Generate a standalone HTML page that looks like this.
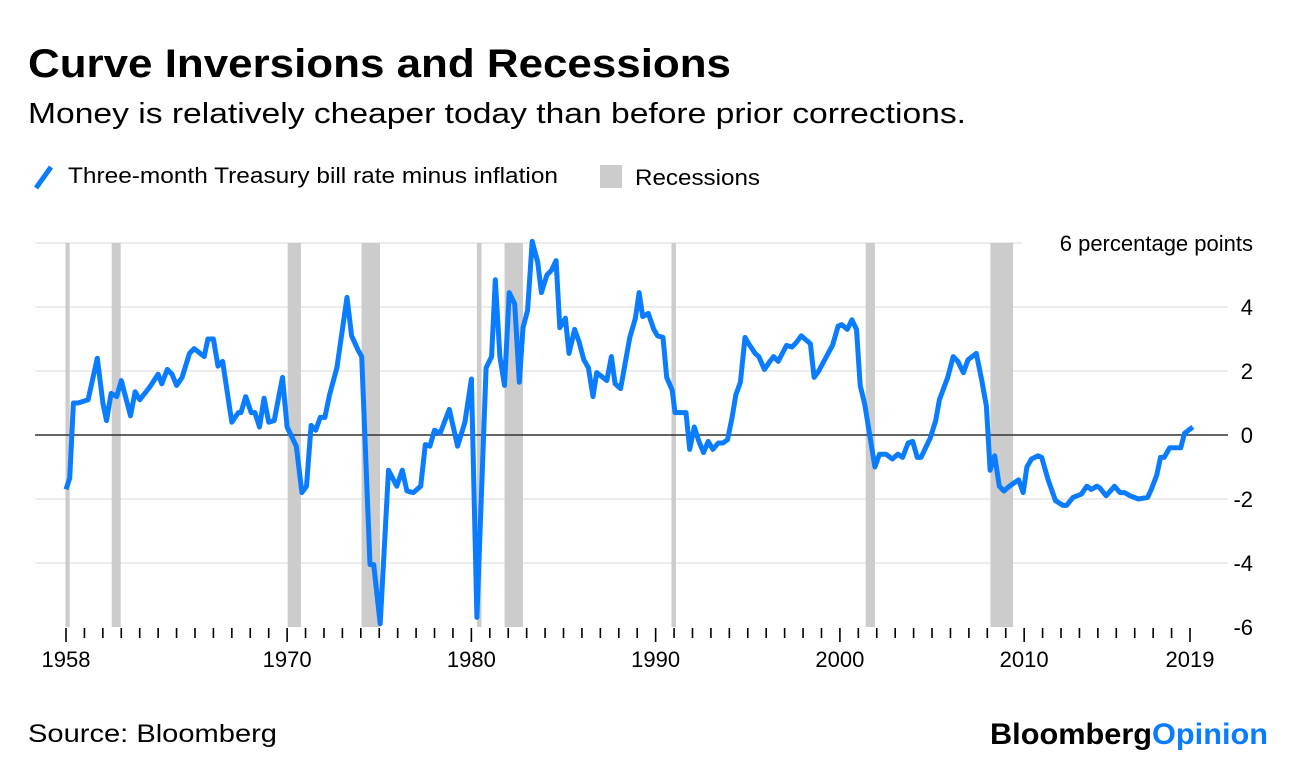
<!DOCTYPE html>
<html><head><meta charset="utf-8"><style>
html,body{margin:0;padding:0;background:#fff;width:1296px;height:766px;overflow:hidden;font-family:"Liberation Sans",Arial,sans-serif;}
svg text{font-family:"Liberation Sans",Arial,sans-serif;}
</style></head><body>
<svg id="chart" width="1296" height="766" viewBox="0 0 1296 766">
<text x="28" y="77" font-size="40" font-weight="bold" fill="#000" textLength="703" lengthAdjust="spacingAndGlyphs">Curve Inversions and Recessions</text>
<text x="28" y="123" font-size="29" fill="#000" textLength="938" lengthAdjust="spacingAndGlyphs">Money is relatively cheaper today than before prior corrections.</text>
<g>
<line x1="36" y1="188" x2="51" y2="167" stroke="#0a7cff" stroke-width="5"/>
<text x="68" y="183" font-size="22" fill="#000" textLength="490" lengthAdjust="spacingAndGlyphs">Three-month Treasury bill rate minus inflation</text>
<rect x="600" y="165" width="22" height="23" fill="#cccccc"/>
<text x="635" y="185" font-size="22" fill="#000" textLength="125" lengthAdjust="spacingAndGlyphs">Recessions</text>
</g>
<g id="plot"></g>
<text x="28" y="742" font-size="25" fill="#000" textLength="249" lengthAdjust="spacingAndGlyphs">Source: Bloomberg</text>
<text x="1268" y="744" font-size="30" font-weight="bold" text-anchor="end" textLength="278" lengthAdjust="spacingAndGlyphs"><tspan fill="#000">Bloomberg</tspan><tspan fill="#0a7cff">Opinion</tspan></text>
</svg>
<script>
const years=[1958,1958.2,1958.4,1958.65,1959.2,1959.7,1960,1960.2,1960.45,1960.75,1961,1961.5,1961.75,1962,1962.55,1963,1963.2,1963.5,1963.75,1964,1964.3,1964.7,1964.95,1965.5,1965.7,1966,1966.25,1966.5,1967,1967.35,1967.5,1967.75,1968.05,1968.25,1968.5,1968.75,1969,1969.3,1969.75,1970,1970.5,1970.8,1971.05,1971.3,1971.55,1971.8,1972.05,1972.3,1972.7,1973.25,1973.5,1973.85,1974.05,1974.5,1974.7,1975.05,1975.5,1975.95,1976.25,1976.5,1976.85,1977.25,1977.5,1977.75,1978,1978.3,1978.8,1979.25,1979.65,1980,1980.3,1980.8,1981.1,1981.3,1981.55,1981.8,1982.05,1982.35,1982.6,1982.8,1983.05,1983.3,1983.6,1983.8,1984.1,1984.35,1984.6,1984.8,1985.1,1985.3,1985.6,1985.85,1986.1,1986.35,1986.6,1986.8,1987.35,1987.6,1987.8,1988.1,1988.6,1988.9,1989.1,1989.3,1989.6,1989.9,1990.1,1990.4,1990.6,1990.9,1991.05,1991.4,1991.65,1991.85,1992.1,1992.35,1992.6,1992.85,1993.1,1993.4,1993.65,1993.9,1994.15,1994.35,1994.6,1994.85,1995.05,1995.4,1995.6,1995.9,1996.2,1996.4,1996.65,1997.1,1997.4,1997.65,1997.9,1998.4,1998.6,1998.85,1999.5,1999.6,1999.9,2000.1,2000.4,2000.65,2000.9,2001.1,2001.35,2001.9,2002.15,2002.5,2002.85,2003.15,2003.4,2003.7,2003.95,2004.2,2004.4,2004.9,2005.2,2005.4,2005.85,2006.15,2006.4,2006.7,2006.95,2007.4,2007.7,2007.95,2008.15,2008.4,2008.65,2008.9,2009.2,2009.7,2009.95,2010.15,2010.4,2010.75,2010.95,2011.3,2011.7,2012.1,2012.3,2012.65,2013.1,2013.4,2013.65,2013.95,2014.1,2014.45,2014.9,2015.2,2015.45,2015.75,2016.2,2016.7,2016.9,2017.2,2017.4,2017.6,2017.9,2018.5,2018.7,2019.15];
const values=[-1.7,-1.35,1.0,1.0,1.1,2.4,1.0,0.45,1.3,1.2,1.7,0.6,1.35,1.1,1.5,1.9,1.6,2.05,1.9,1.55,1.8,2.55,2.7,2.45,3.0,3.0,2.15,2.3,0.4,0.7,0.7,1.2,0.7,0.7,0.25,1.15,0.4,0.45,1.8,0.25,-0.35,-1.8,-1.6,0.3,0.15,0.55,0.55,1.25,2.1,4.3,3.1,2.65,2.45,-4.05,-4.05,-5.9,-1.1,-1.6,-1.1,-1.75,-1.8,-1.6,-0.3,-0.35,0.15,0.05,0.8,-0.35,0.4,1.75,-5.7,2.1,2.45,4.85,2.45,1.55,4.45,4.1,1.65,3.35,3.9,6.05,5.4,4.45,5.0,5.15,5.45,3.35,3.65,2.55,3.3,2.9,2.35,2.1,1.2,1.95,1.7,2.45,1.6,1.45,3.05,3.65,4.45,3.7,3.8,3.3,3.1,3.05,1.8,1.4,0.7,0.7,0.7,-0.45,0.25,-0.2,-0.55,-0.2,-0.45,-0.25,-0.25,-0.15,0.55,1.25,1.65,3.05,2.85,2.55,2.45,2.05,2.3,2.45,2.3,2.8,2.75,2.9,3.1,2.85,1.8,2.0,2.7,2.8,3.4,3.45,3.3,3.6,3.3,1.55,0.95,-1.0,-0.6,-0.6,-0.75,-0.6,-0.7,-0.25,-0.2,-0.7,-0.7,-0.1,0.45,1.1,1.8,2.45,2.3,1.95,2.35,2.55,1.7,0.9,-1.1,-0.65,-1.6,-1.75,-1.6,-1.4,-1.8,-1.0,-0.75,-0.65,-0.7,-1.4,-2.05,-2.2,-2.2,-1.95,-1.85,-1.6,-1.7,-1.6,-1.65,-1.9,-1.6,-1.8,-1.8,-1.9,-2.0,-1.95,-1.7,-1.25,-0.7,-0.7,-0.4,-0.4,0.05,0.25];
const recStart=[1957.97,1960.48,1970.03,1974.04,1980.3,1981.8,1990.86,2001.4,2008.17];
const recEnd=[1958.2,1960.97,1970.75,1975.04,1980.55,1982.8,1991.1,2001.9,2009.4];
const yTicks=[6,4,2,0,-2,-4,-6];
const yTickLabels=["6 percentage points","4","2","0","-2","-4","-6"];
const xLabels=[1958,1970,1980,1990,2000,2010,2019];
const x0=1958,x1=2019;
const NS="http://www.w3.org/2000/svg";
function xs(t){return 66+(t-x0)*(1190-66)/(x1-x0);}
function ys(v){return 435-v*(435-243)/6;}
const plot=document.getElementById('plot');
function mk(tag,attrs){const e=document.createElementNS(NS,tag);for(const k in attrs)e.setAttribute(k,attrs[k]);plot.appendChild(e);return e;}
yTicks.forEach((v,i)=>{
 if(v===0||v===-6)return;
 const g=mk('line',{x1:35,x2:v===6?1022:1228,y1:ys(v),y2:ys(v),stroke:'#ececec','stroke-width':2});
 
 
});
recStart.forEach((s,i)=>{
 const r=mk('rect',{x:xs(s),y:ys(6),width:Math.max(3,xs(recEnd[i])-xs(s)),height:ys(-6)-ys(6),fill:'#cccccc'});
 
 
});
const z=mk('line',{x1:35,x2:1228,y1:ys(0),y2:ys(0),stroke:'#333','stroke-width':1.5});


yTicks.forEach((v,i)=>{
 const t=mk('text',{x:1253,y:ys(v)+8,'font-size':22,'text-anchor':'end',fill:'#000'});
 t.textContent=yTickLabels[i];
 
 
});
for(let yr=x0;yr<=x1;yr++){
 const major=xLabels.includes(yr);
 const tk=mk('line',{x1:xs(yr),x2:xs(yr),y1:628,y2:major?642:638,stroke:'#000','stroke-width':1.6});
 
 
}
xLabels.forEach(yr=>{
 const t=mk('text',{x:xs(yr),y:667,'font-size':22,'text-anchor':'middle',fill:'#000'});
 t.textContent=yr;
 
 
});
const d=years.map((y,i)=>(i?'L':'M')+xs(y).toFixed(1)+','+ys(values[i]).toFixed(1)).join('');
const p=mk('path',{d:d,fill:'none',stroke:'#0a7cff','stroke-width':5,'stroke-linejoin':'round'});


</script>
</body></html>
